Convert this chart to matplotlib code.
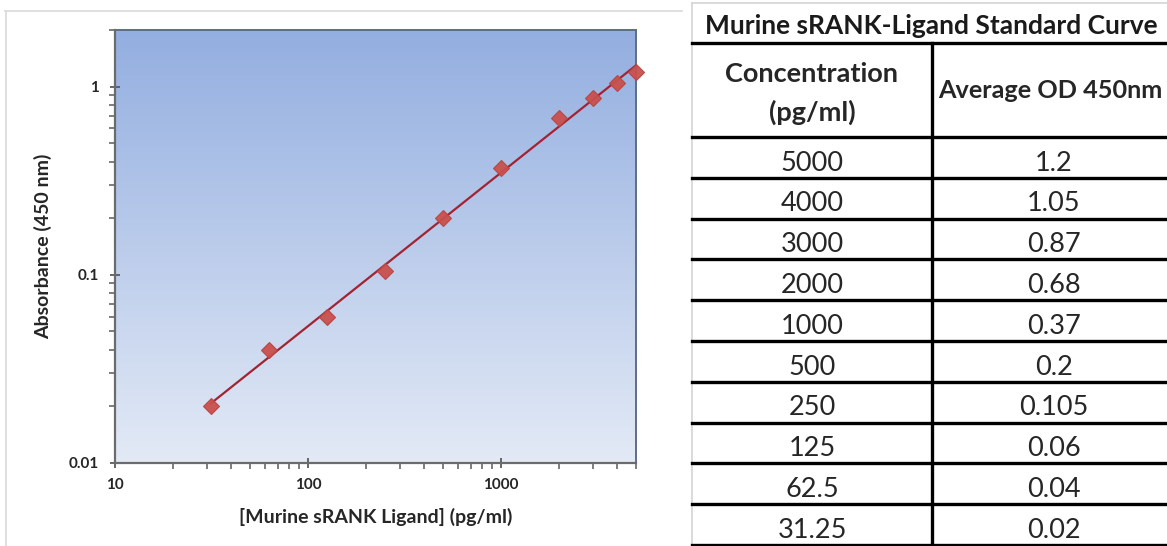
import numpy as np
import matplotlib
matplotlib.use("Agg")
import matplotlib.pyplot as plt
from matplotlib.ticker import LogLocator, FuncFormatter, NullFormatter

# standard curve data (as listed in the table, high to low)
concentration = [5000, 4000, 3000, 2000, 1000, 500, 250, 125, 62.5, 31.25]
conc_labels = ["5000", "4000", "3000", "2000", "1000", "500", "250", "125", "62.5", "31.25"]
od450 = [1.2, 1.05, 0.87, 0.68, 0.37, 0.2, 0.105, 0.06, 0.04, 0.02]
od_labels = ["1.2", "1.05", "0.87", "0.68", "0.37", "0.2", "0.105", "0.06", "0.04", "0.02"]

table_title = "Murine sRANK-Ligand Standard Curve"
header_left = ["Concentration", "(pg/ml)"]
header_right = "Average OD 450nm"

plt.rcParams['font.family'] = ['Lato', 'DejaVu Sans']

W, H = 1167, 546
fig = plt.figure(figsize=(W / 100, H / 100), dpi=100)

# pixel-coordinate canvas for the frame and the table
bg = fig.add_axes([0, 0, 1, 1])
bg.set_xlim(0, W)
bg.set_ylim(H, 0)
bg.axis('off')

# light frame around the chart
bg.plot([5, 682], [11, 11], color='#d9d9d9', lw=1.2)
bg.plot([6, 6], [11, H], color='#d9d9d9', lw=1.2)

# ---- chart ----
left, right, top, bottom = 115, 636, 30, 463
ax = fig.add_axes([left / W, (H - bottom) / H, (right - left) / W, (bottom - top) / H])
ax.set_xscale('log')
ax.set_yscale('log')

grad = np.linspace(0, 1, 256).reshape(-1, 1)
c_top = np.array([0x93, 0xae, 0xe0]) / 255
c_bot = np.array([0xe3, 0xea, 0xf6]) / 255
img = c_top + (c_bot - c_top) * grad[..., None]
ax.imshow(img.reshape(256, 1, 3), extent=[0, 1, 0, 1], transform=ax.transAxes,
          aspect='auto', zorder=0)

# power trendline fitted on log-log data
lx = np.log10(concentration)
ly = np.log10(od450)
slope, icpt = np.polyfit(lx, ly, 1)
xs = np.array([min(concentration), max(concentration)])
ax.plot(xs, 10 ** (icpt + slope * np.log10(xs)), color='#a32332', lw=1.6, zorder=3)

ax.plot(concentration, od450, linestyle='none', marker='D', markersize=8.5,
        color='#c9504d', markeredgecolor='#b84542', markeredgewidth=0.8,
        alpha=0.95, zorder=4, clip_on=False)

ax.set_xlim(10, 5000)
ax.set_ylim(0.01, 2)

fmt = FuncFormatter(lambda v, _: f'{v:g}')
for axis in (ax.xaxis, ax.yaxis):
    axis.set_major_locator(LogLocator(base=10, numticks=10))
    axis.set_minor_locator(LogLocator(base=10, subs=np.arange(2, 10), numticks=20))
    axis.set_major_formatter(fmt)
    axis.set_minor_formatter(NullFormatter())

ax.tick_params(which='major', direction='inout', length=7, width=1.3, color='#5a5a5a',
               labelsize=11, labelcolor='#262626')
ax.tick_params(which='minor', direction='out', length=4, width=1.1, color='#5a5a5a')
ax.tick_params(axis='x', which='major', pad=7)
ax.tick_params(axis='y', which='major', pad=8)
for lab in ax.get_xticklabels() + ax.get_yticklabels():
    lab.set_fontweight('bold')

for side in ('left', 'bottom'):
    ax.spines[side].set_color('#6b6b6b')
    ax.spines[side].set_linewidth(1.6)
for side in ('top', 'right'):
    ax.spines[side].set_color('#5d6d88')
    ax.spines[side].set_linewidth(1.4)

ax.set_xlabel('[Murine sRANK Ligand] (pg/ml)', fontsize=14, fontweight='bold',
              color='#262626', va='center')
ax.xaxis.set_label_coords(0.5, -(517 - bottom) / (bottom - top))
ax.set_ylabel('Absorbance (450 nm)', fontsize=14, fontweight='bold',
              color='#262626', va='center')
ax.yaxis.set_label_coords(-(left - 43) / (right - left), 0.5)

# ---- table ----
tx0, tx1 = 692, W
col_div = 932
hdr_bottom = 137
row_h = 40.8
thick = 2.4
txt_col = '#262626'
fs = 19.5

bg.plot([tx0, tx1], [3, 3], color='#d4d4d4', lw=1.2)
bg.plot([tx0, tx0], [3, H], color='#d4d4d4', lw=1.2)
bg.plot([tx0, tx1], [43, 43], color='black', lw=thick)
bg.plot([col_div, col_div], [43, H], color='black', lw=thick)
bg.plot([tx0, tx1], [hdr_bottom, hdr_bottom], color='black', lw=thick)

bg.text(705, 34.5, table_title, fontsize=19, fontweight='bold', color='#1a1a1a',
        ha='left', va='baseline')
bg.text(812, 81.5, header_left[0], fontsize=fs, fontweight='bold', color=txt_col,
        ha='center', va='baseline')
bg.text(812, 121, header_left[1], fontsize=fs, fontweight='bold', color=txt_col,
        ha='center', va='baseline')
bg.text(938, 98.5, header_right, fontsize=18.2, fontweight='bold', color=txt_col,
        ha='left', va='baseline')

for i, (c, o) in enumerate(zip(conc_labels, od_labels)):
    y_line = hdr_bottom + (i + 1) * row_h
    y_mid = hdr_bottom + (i + 0.5) * row_h
    bg.plot([tx0, tx1], [y_line, y_line], color='black', lw=thick)
    bg.text(812, y_mid + 13.2, c, fontsize=fs, color=txt_col, ha='center', va='baseline')
    bg.text(1054, y_mid + 13.2, o, fontsize=fs, color=txt_col, ha='center', va='baseline')

fig.savefig('out.png', dpi=100)
